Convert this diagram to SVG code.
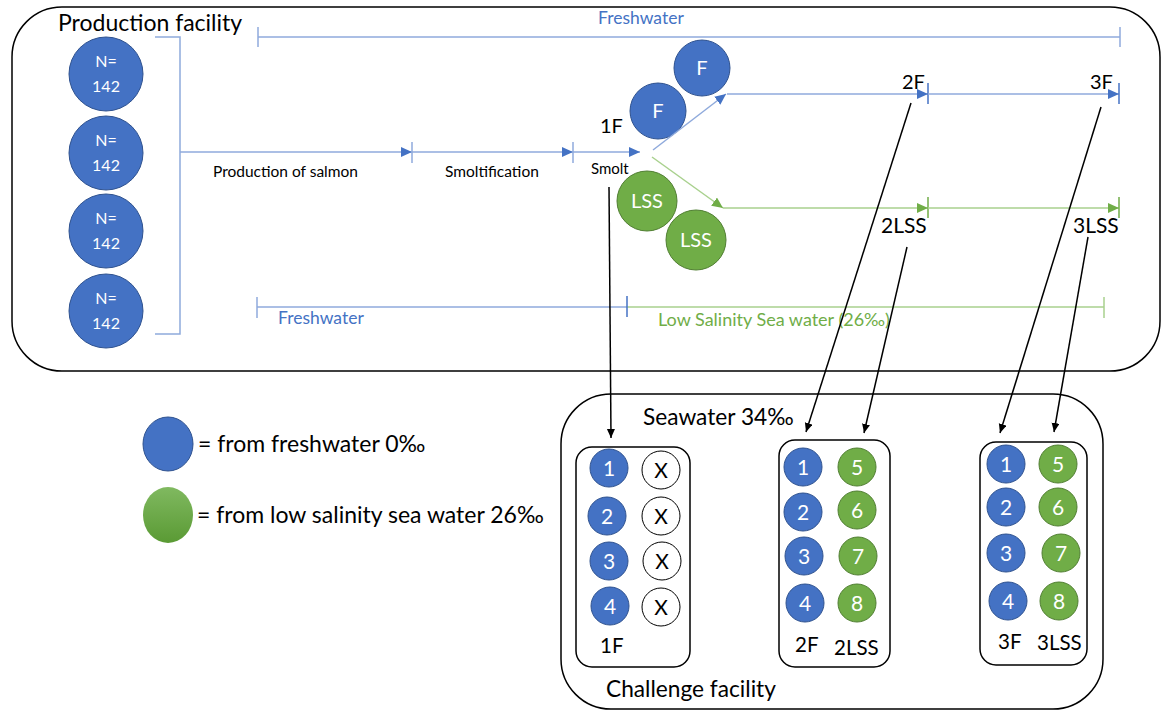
<svg xmlns="http://www.w3.org/2000/svg" width="1162" height="711" viewBox="0 0 1162 711">
<defs>
<marker id="ab" markerUnits="userSpaceOnUse" markerWidth="12" markerHeight="10" refX="11" refY="5" orient="auto"><path d="M0,0 L11,5 L0,10 z" fill="#4472C4"/></marker>
<marker id="ag" markerUnits="userSpaceOnUse" markerWidth="12" markerHeight="10" refX="11" refY="5" orient="auto"><path d="M0,0 L11,5 L0,10 z" fill="#70AD47"/></marker>
<marker id="ak" markerUnits="userSpaceOnUse" markerWidth="10" markerHeight="10" refX="9" refY="4" orient="auto"><path d="M0,0 L9,4 L0,8 z" fill="#000"/></marker>
<linearGradient id="gg" x1="0" y1="0" x2="0" y2="1"><stop offset="0" stop-color="#80B960"/><stop offset="1" stop-color="#5A9A34"/></linearGradient>
</defs>
<style>
text{font-family:Lato,"Open Sans","Liberation Sans",sans-serif;fill:#000}
.frame{fill:none;stroke:#000;stroke-width:1.5}
.bc{fill:#4472C4;stroke:#2F528F;stroke-width:1}
.gc{fill:#70AD47;stroke:#507E32;stroke-width:1}
.xc{fill:#fff;stroke:#000;stroke-width:1}
.wt{fill:#fff;text-anchor:middle}
.num{font-size:21px}
.bl{stroke:#8FAADC;stroke-width:1.5;fill:none}
.gl{stroke:#A9D18E;stroke-width:1.5;fill:none}
.bt{stroke:#4472C4;stroke-width:1.5}
.gt{stroke:#70AD47;stroke-width:1.5}
.blt{stroke:#8FAADC;stroke-width:1.5}
.kl{stroke:#000;stroke-width:1.5;fill:none;marker-end:url(#ak)}
.lbl{font-size:20px}
.big{font-size:22.7px}
.tl{font-size:20.5px}
</style>

<g id="production-facility">
<rect class="frame" x="12" y="7" width="1148" height="364" rx="50"/>
<text x="58" y="31" font-size="23">Production facility</text>
</g>

<g id="pop1"><circle class="bc" cx="106" cy="74" r="37"/><text class="wt" x="106" y="67" font-size="16">N=</text><text class="wt" x="106" y="92" font-size="16">142</text></g>
<g id="pop2"><circle class="bc" cx="106" cy="153" r="37"/><text class="wt" x="106" y="146" font-size="16">N=</text><text class="wt" x="106" y="171" font-size="16">142</text></g>
<g id="pop3"><circle class="bc" cx="106" cy="231" r="37"/><text class="wt" x="106" y="224" font-size="16">N=</text><text class="wt" x="106" y="249" font-size="16">142</text></g>
<g id="pop4"><circle class="bc" cx="106" cy="311" r="37"/><text class="wt" x="106" y="304" font-size="16">N=</text><text class="wt" x="106" y="329" font-size="16">142</text></g>

<g id="timeline-labels">
<text x="598" y="24" font-size="17.5" style="fill:#4472C4">Freshwater</text>
<text x="213" y="177" font-size="15.5">Production of salmon</text>
<text x="445" y="177" font-size="15.5">Smoltification</text>
<text x="591" y="174" font-size="15">Smolt</text>
<text x="600" y="133" class="lbl">1F</text>
<text x="902" y="89" class="lbl">2F</text>
<text x="1090" y="89" class="lbl">3F</text>
<text x="881" y="233" font-size="21">2LSS</text>
<text x="1073" y="233" font-size="21">3LSS</text>
<text x="278" y="324" font-size="17.5" style="fill:#4472C4">Freshwater</text>
<text x="658" y="326" font-size="18" style="fill:#70AD47">Low Salinity Sea water (26‰)</text>
</g>

<g id="fish-F1"><circle class="bc" cx="658" cy="111" r="28"/><text class="wt" x="658" y="118" font-size="20">F</text></g>
<g id="fish-F2"><circle class="bc" cx="702" cy="68" r="28"/><text class="wt" x="702" y="75" font-size="20">F</text></g>
<g id="fish-LSS1"><circle class="gc" cx="647" cy="201" r="30"/><text class="wt" x="647" y="208" font-size="20">LSS</text></g>
<g id="fish-LSS2"><circle class="gc" cx="696" cy="240" r="30"/><text class="wt" x="696" y="247" font-size="20">LSS</text></g>

<g id="connectors">
<!-- bracket -->
<path class="bl" d="M155,37 H180 V334 H155"/>
<!-- freshwater top span -->
<line class="bl" x1="258" y1="37" x2="1120" y2="37"/>
<line class="blt" x1="258" y1="27" x2="258" y2="47"/>
<line class="blt" x1="1120" y1="27" x2="1120" y2="47"/>
<!-- main timeline -->
<line class="bl" x1="180" y1="152" x2="412" y2="152" marker-end="url(#ab)"/>
<line class="blt" x1="412" y1="142" x2="412" y2="163"/>
<line class="bl" x1="412" y1="152" x2="573" y2="152" marker-end="url(#ab)"/>
<line class="blt" x1="573" y1="142" x2="573" y2="163"/>
<line class="bl" x1="573" y1="152" x2="640" y2="152" marker-end="url(#ab)"/>
<!-- F branch -->
<line class="bl" x1="653" y1="150" x2="726" y2="94" marker-end="url(#ab)"/>
<line class="bl" x1="727" y1="94" x2="928" y2="94" marker-end="url(#ab)"/>
<line class="bt" x1="928" y1="83" x2="928" y2="104"/>
<line class="bl" x1="928" y1="94" x2="1119" y2="94" marker-end="url(#ab)"/>
<line class="bt" x1="1119" y1="83" x2="1119" y2="104"/>
<!-- LSS branch -->
<line class="gl" x1="652" y1="157" x2="723" y2="208" marker-end="url(#ag)"/>
<line class="gl" x1="723" y1="208" x2="928" y2="208" marker-end="url(#ag)"/>
<line class="gt" x1="928" y1="197" x2="928" y2="218"/>
<line class="gl" x1="928" y1="208" x2="1119" y2="208" marker-end="url(#ag)"/>
<line class="gt" x1="1119" y1="197" x2="1119" y2="218"/>
<!-- bottom span -->
<line class="bl" x1="257" y1="307" x2="627" y2="307"/>
<line class="blt" x1="257" y1="297" x2="257" y2="318"/>
<line class="gl" x1="627" y1="307" x2="1104" y2="307"/>
<line class="bt" x1="627" y1="296" x2="627" y2="317"/>
<line class="gl" x1="1104" y1="297" x2="1104" y2="318"/>
<!-- transfers -->
<line class="kl" x1="609" y1="187" x2="611" y2="438"/>
<line class="kl" x1="911" y1="103" x2="806" y2="432"/>
<line class="kl" x1="907" y1="247" x2="864" y2="433"/>
<line class="kl" x1="1101" y1="107" x2="1000" y2="433"/>
<line class="kl" x1="1088" y1="237" x2="1054" y2="432"/>
</g>

<g id="legend">
<ellipse class="bc" cx="168" cy="444" rx="25" ry="27"/>
<text x="198" y="452" font-size="23">= from freshwater 0‰</text>
<ellipse cx="168" cy="515" rx="25" ry="28" fill="url(#gg)"/>
<text x="197" y="523" font-size="23">= from low salinity sea water 26‰</text>
</g>

<g id="challenge-facility">
<rect class="frame" x="561" y="394" width="542" height="315" rx="50"/>
<text x="643" y="425" class="big">Seawater 34‰</text>
<text x="606" y="697" class="big">Challenge facility</text>
</g>

<g id="tank-1F">
<rect class="frame" x="576" y="447" width="114" height="220" rx="16"/>
<circle class="bc" cx="609" cy="468" r="19"/><text class="wt num" x="609" y="476">1</text>
<circle class="bc" cx="607" cy="516" r="19"/><text class="wt num" x="607" y="524">2</text>
<circle class="bc" cx="609" cy="561" r="19"/><text class="wt num" x="609" y="569">3</text>
<circle class="bc" cx="610" cy="606" r="19"/><text class="wt num" x="610" y="614">4</text>
<circle class="xc" cx="661" cy="470" r="19"/><text x="661" y="478" font-size="21" text-anchor="middle">X</text>
<circle class="xc" cx="661" cy="516" r="19"/><text x="661" y="524" font-size="21" text-anchor="middle">X</text>
<circle class="xc" cx="662" cy="561" r="19"/><text x="662" y="569" font-size="21" text-anchor="middle">X</text>
<circle class="xc" cx="661" cy="607" r="19"/><text x="661" y="615" font-size="21" text-anchor="middle">X</text>
<text x="600" y="653" class="tl">1F</text>
</g>

<g id="tank-2">
<rect class="frame" x="779" y="440" width="111" height="227" rx="16"/>
<circle class="bc" cx="803" cy="467" r="19"/><text class="wt num" x="803" y="475">1</text>
<circle class="bc" cx="803" cy="512" r="19"/><text class="wt num" x="803" y="520">2</text>
<circle class="bc" cx="804" cy="556" r="19"/><text class="wt num" x="804" y="564">3</text>
<circle class="bc" cx="805" cy="603" r="19"/><text class="wt num" x="805" y="611">4</text>
<circle class="gc" cx="857" cy="467" r="19"/><text class="wt num" x="857" y="475">5</text>
<circle class="gc" cx="857" cy="510" r="19"/><text class="wt num" x="857" y="518">6</text>
<circle class="gc" cx="858" cy="556" r="19"/><text class="wt num" x="858" y="564">7</text>
<circle class="gc" cx="857" cy="603" r="19"/><text class="wt num" x="857" y="611">8</text>
<text x="795" y="652" class="tl">2F</text>
<text x="834" y="655" class="tl">2LSS</text>
</g>

<g id="tank-3">
<rect class="frame" x="980" y="442" width="107" height="223" rx="16"/>
<circle class="bc" cx="1006" cy="464" r="19"/><text class="wt num" x="1006" y="472">1</text>
<circle class="bc" cx="1006" cy="507" r="19"/><text class="wt num" x="1006" y="515">2</text>
<circle class="bc" cx="1006" cy="553" r="19"/><text class="wt num" x="1006" y="561">3</text>
<circle class="bc" cx="1008" cy="601" r="19"/><text class="wt num" x="1008" y="609">4</text>
<circle class="gc" cx="1058" cy="464" r="19"/><text class="wt num" x="1058" y="472">5</text>
<circle class="gc" cx="1058" cy="507" r="19"/><text class="wt num" x="1058" y="515">6</text>
<circle class="gc" cx="1061" cy="553" r="19"/><text class="wt num" x="1061" y="561">7</text>
<circle class="gc" cx="1059" cy="601" r="19"/><text class="wt num" x="1059" y="609">8</text>
<text x="998" y="649" class="tl">3F</text>
<text x="1037" y="650" class="tl">3LSS</text>
</g>
</svg>
